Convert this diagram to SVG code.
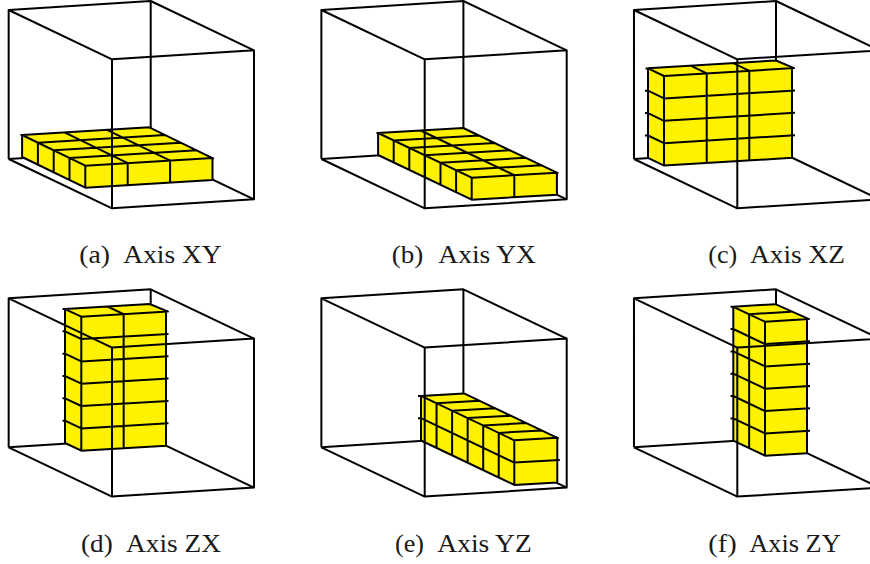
<svg xmlns="http://www.w3.org/2000/svg" width="870" height="564" viewBox="0 0 870 564">
<style>
.l{fill:none;stroke:#000;stroke-width:2;stroke-linejoin:round;stroke-linecap:butt}
.b{fill:#fff200;stroke:none}
.c{font-family:"Liberation Serif","Times New Roman",serif;font-size:25px;fill:#1a1a1a}
</style>
<defs>
<path id="boxBack" class="l" d="M150.7 1V150M8.67 159L150.7 150L254 199.3"/>
<path id="boxFront" class="l" d="M8.67 159V10L150.7 1L254 50.3V199.3L112 208.3L8.67 159M8.67 10L112 59.3L254 50.3M112 59.3V208.3"/>
</defs>
<rect width="870" height="564" fill="#fff"/>
<g id="panel-a">
<use href="#boxBack"/>
<polygon class="b" points="85.3,187.7 212.5,180.05 212.5,158.05 149.3,127.33 22.1,134.98 22.1,156.98"/>
<path class="l" d="M85.3 165.7L212.5 158.05M69.5 158.02L196.7 150.37M53.7 150.34L180.9 142.69M37.9 142.66L165.1 135.01M20.5 135.1L22.1 134.98L149.3 127.33
M85.3 165.7L22.1 134.98M127.7 163.15L64.5 132.43M170.1 160.6L106.9 129.88M214 158.7L212.5 158.05L149.3 127.33
M85.3 165.7V187.7M127.7 163.15V185.15M170.1 160.6V182.6M212.5 158.05V180.05
M22.1 134.98V156.98M37.9 142.66V164.66M53.7 150.34V172.34M69.5 158.02V180.02
M22.1 156.98L85.3 187.7L212.5 180.05"/>
<use href="#boxFront"/>
<text class="c" y="263"><tspan x="79.3" textLength="30.7" lengthAdjust="spacingAndGlyphs">(a)</tspan><tspan x="123.3" textLength="98.4" lengthAdjust="spacingAndGlyphs">Axis XY</tspan></text>
</g>
<g id="panel-b">
<use href="#boxBack" transform="translate(312.7 0)"/>
<polygon class="b" points="471.7,199.7 556.9,194.7 556.9,172.7 463.3,128 378.1,133 378.1,155"/>
<path class="l" d="M471.7 177.7L556.9 172.7M456.1 170.25L541.3 165.25M440.5 162.8L525.7 157.8M424.9 155.35L510.1 150.35M409.3 147.9L494.5 142.9M393.7 140.45L478.9 135.45M376.5 133.1L378.1 133L463.3 128
M471.7 177.7L378.1 133M514.3 175.2L420.7 130.5M558.4 173.4L556.9 172.7L463.3 128
M471.7 177.7V199.7M514.3 175.2V197.2M556.9 172.7V194.7
M378.1 133V155M393.7 140.45V162.45M409.3 147.9V169.9M424.9 155.35V177.35M440.5 162.8V184.8M456.1 170.25V192.25
M378.1 155L471.7 199.7L556.9 194.7"/>
<use href="#boxFront" transform="translate(312.7 0)"/>
<text class="c" y="263"><tspan x="391.7" textLength="31.6" lengthAdjust="spacingAndGlyphs">(b)</tspan><tspan x="438.3" textLength="97.7" lengthAdjust="spacingAndGlyphs">Axis YX</tspan></text>
</g>
<g id="panel-c">
<use href="#boxBack" transform="translate(625.3 0)"/>
<polygon class="b" points="664,165.6 792,157.8 792,68.2 776,60.5 648,68.3 648,157.9"/>
<path class="l" d="M645.5 68.4H648L664 76L794 68.1L776 60.5L648 68.3M690.7 65.7L706.7 73.4M733.3 63.1L749.3 70.8
M645 90.7H648L664 98.4L795 90.4M645 113.1H648L664 120.8L795 112.8M645 135.5H648L664 143.2L795 135.2
M664 76V165.6M706.7 73.4V163M749.3 70.8V160.4M792 68.2V157.8M648 68.3V157.9
M648 157.9L664 165.6L792 157.8"/>
<use href="#boxFront" transform="translate(625.3 0)"/>
<text class="c" y="263"><tspan x="708.3" textLength="29" lengthAdjust="spacingAndGlyphs">(c)</tspan><tspan x="750" textLength="95" lengthAdjust="spacingAndGlyphs">Axis XZ</tspan></text>
</g>
<g id="panel-d">
<use href="#boxBack" transform="translate(0 288.3)"/>
<polygon class="b" points="81.3,450.7 166,445.7 166,311.7 149.7,304 65,309 65,443"/>
<path class="l" d="M62.5 309.1H65L81.3 316.7L168 311.6L149.7 304L65 309M107.35 306.5L123.65 314.2
M62.5 331.3H65L81.3 339L168.5 333.9M62.5 353.7H65L81.3 361.4L168.5 356.3M62.5 376H65L81.3 383.7L168.5 378.6M62.5 398.3H65L81.3 406L168.5 400.9M62.5 420.7H65L81.3 428.4L168.5 423.3
M81.3 316.7V450.7M123.65 314.2V448.2M166 311.7V445.7M65 309V443
M65 443L81.3 450.7L166 445.7"/>
<use href="#boxFront" transform="translate(0 288.3)"/>
<text class="c" y="551.5"><tspan x="81" textLength="31.7" lengthAdjust="spacingAndGlyphs">(d)</tspan><tspan x="126" textLength="95" lengthAdjust="spacingAndGlyphs">Axis ZX</tspan></text>
</g>
<g id="panel-e">
<use href="#boxBack" transform="translate(312.7 288.3)"/>
<polygon class="b" points="514.3,484.9 557.3,482.4 557.3,437.8 464,393.4 421,395.9 421,440.5"/>
<path class="l" d="M514.3 440.3L557.3 437.8M498.75 432.9L541.75 430.4M483.2 425.5L526.2 423M467.65 418.1L510.65 415.6M452.1 410.7L495.1 408.2M436.55 403.3L479.55 400.8M418 396H421L464 393.4
M514.3 440.3L421 395.9M558.8 438.5L557.3 437.8L464 393.4
M418 418.2H421L514.3 462.6L559.8 459.9
M514.3 440.3V484.9M557.3 437.8V482.4M498.75 432.9V477.5M483.2 425.5V470.1M467.65 418.1V462.7M452.1 410.7V455.3M436.55 403.3V447.9M421 395.9V440.5
M421 440.5L514.3 484.9L557.3 482.4"/>
<use href="#boxFront" transform="translate(312.7 288.3)"/>
<text class="c" y="551.5"><tspan x="395" textLength="29" lengthAdjust="spacingAndGlyphs">(e)</tspan><tspan x="437.3" textLength="94.4" lengthAdjust="spacingAndGlyphs">Axis YZ</tspan></text>
</g>
<g id="panel-f">
<use href="#boxBack" transform="translate(625.3 288.3)"/>
<polygon class="b" points="765,455.7 807,453.2 807,319.2 775.3,304.2 733.3,306.7 733.3,440.7"/>
<path class="l" d="M730.5 306.8H733.3L765 321.7L809 319.1L775.3 304.2L733.3 306.7M749.15 314.2L791.15 311.7
M730.5 329H733.3L765 344L810 341.3M730.5 351.4H733.3L765 366.4L810 363.7M730.5 373.7H733.3L765 388.7L810 386M730.5 396H733.3L765 411L810 408.3M730.5 418.4H733.3L765 433.4L810 430.7
M765 321.7V455.7M807 319.2V453.2M749.15 314.2V448.2M733.3 306.7V440.7
M733.3 440.7L765 455.7L807 453.2"/>
<use href="#boxFront" transform="translate(625.3 288.3)"/>
<text class="c" y="551.5"><tspan x="708.3" textLength="28.4" lengthAdjust="spacingAndGlyphs">(f)</tspan><tspan x="749.3" textLength="91.4" lengthAdjust="spacingAndGlyphs">Axis ZY</tspan></text>
</g>
</svg>
